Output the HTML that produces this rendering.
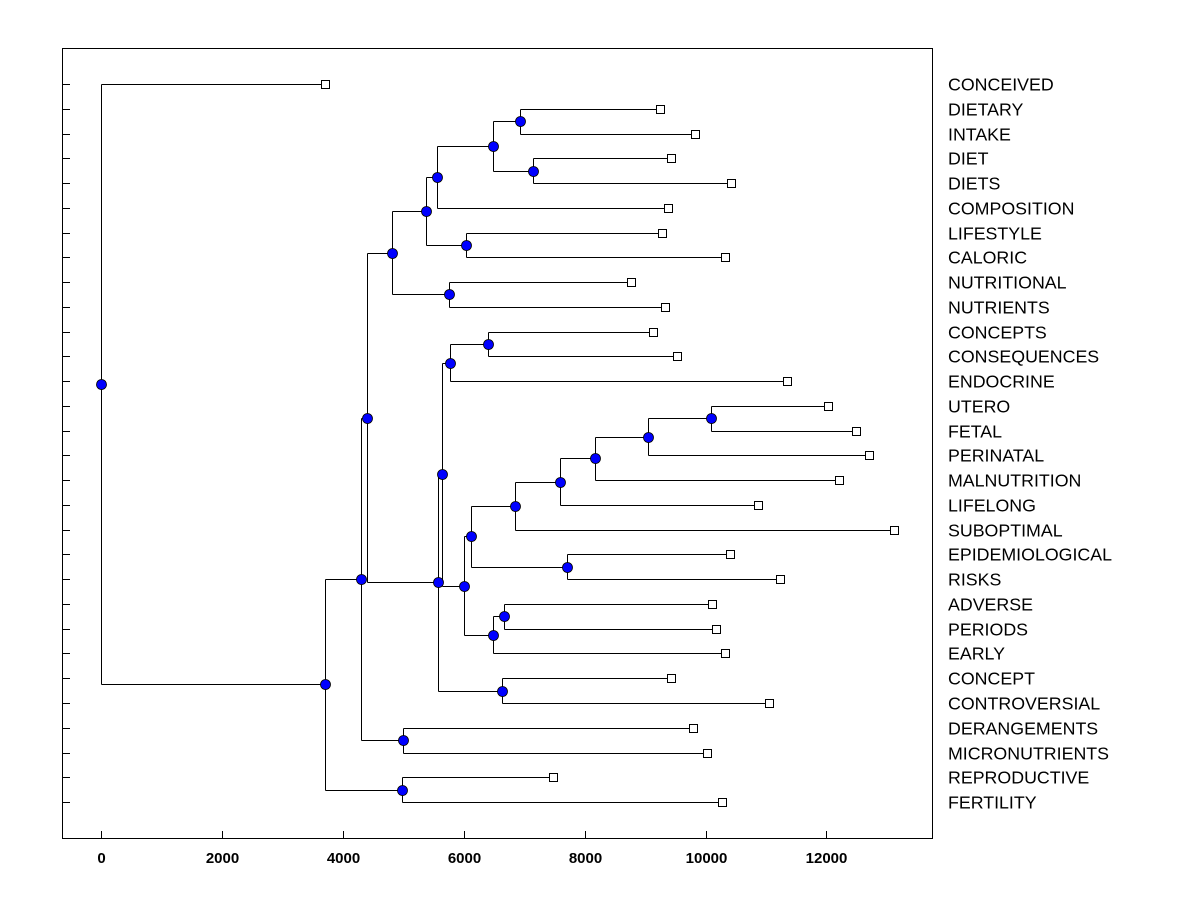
<!DOCTYPE html>
<html><head><meta charset="utf-8"><style>
html,body{margin:0;padding:0;background:#fff;}
svg text{font-family:"Liberation Sans",Arial,sans-serif;}
</style></head><body>
<svg id="chart" width="1200" height="900" xmlns="http://www.w3.org/2000/svg">
<rect x="0" y="0" width="1200" height="900" fill="#fff"/>
<rect x="62.5" y="48.5" width="870" height="790" fill="none" stroke="#000" stroke-width="1"/>
<g id="axis"></g><g id="lines"></g><g id="marks"></g><g id="labels"></g>
</svg>
<script>
const leafNames = ["CONCEIVED","DIETARY","INTAKE","DIET","DIETS","COMPOSITION","LIFESTYLE","CALORIC","NUTRITIONAL","NUTRIENTS","CONCEPTS","CONSEQUENCES","ENDOCRINE","UTERO","FETAL","PERINATAL","MALNUTRITION","LIFELONG","SUBOPTIMAL","EPIDEMIOLOGICAL","RISKS","ADVERSE","PERIODS","EARLY","CONCEPT","CONTROVERSIAL","DERANGEMENTS","MICRONUTRIENTS","REPRODUCTIVE","FERTILITY"];
const leafHeights = [3712,9246,9826,9428,10423,9379,9279,10323,8766,9329,9130,9528,11350,12030,12494,12709,12212,10870,13123,10406,11234,10108,10174,10323,9428,11052,9793,10025,7473,10273];
const nodeIds = ["root","A","R","B","DM","C","D","NN","F","LC","G","H","DD1","DD2","E","CC","I","J","CS","K","N","O","M","ER","P","Q","S","T","U"];
const nodeHeights = [0,3712,4975,4300,5000,4400,4810,5752,5380,6033,5555,6479,6925,7140,5570,6629,5635,5768,6397,6000,6491,6672,6116,7702,6843,7587,8165,9041,10099];
const nodeChildren = [["L0","A"],["B","R"],["L28","L29"],["C","DM"],["L26","L27"],["D","E"],["F","NN"],["L8","L9"],["G","LC"],["L6","L7"],["H","L5"],["DD1","DD2"],["L1","L2"],["L3","L4"],["I","CC"],["L24","L25"],["J","K"],["CS","L12"],["L10","L11"],["M","N"],["O","L23"],["L21","L22"],["P","ER"],["L19","L20"],["Q","L18"],["S","L17"],["T","L16"],["U","L15"],["L13","L14"]];
const xTicks = [0,2000,4000,6000,8000,10000,12000];

const NS="http://www.w3.org/2000/svg";
const xs = v => 101 + v*0.06045;
const ys = i => 84 + i*24.76;
function mk(tag, attrs, parent){const e=document.createElementNS(NS,tag);for(const k in attrs)e.setAttribute(k,attrs[k]);parent.appendChild(e);return e;}
const gAxis=document.getElementById('axis'),gLines=document.getElementById('lines'),gMarks=document.getElementById('marks'),gLab=document.getElementById('labels');

xTicks.forEach(t=>{
  const x=Math.round(xs(t))+0.5;
  const l=mk('line',{x1:x,x2:x,y1:838,y2:831,stroke:'#000'},gAxis);
  
  
  const tx=mk('text',{x:x,y:863,'text-anchor':'middle','font-size':'15','font-weight':'bold'},gAxis);
  tx.textContent=t;
  
  
});
leafNames.forEach((n,i)=>{
  const y=Math.round(ys(i))+0.5;
  const l=mk('line',{x1:62,x2:70,y1:y,y2:y,stroke:'#000'},gAxis);
  
  
  const tx=mk('text',{x:948,y:y+6,'font-size':'17.8'},gLab);
  tx.textContent=n;
  
  
});

const pos={};
function get(id){
  if(pos[id])return pos[id];
  if(/^L\d+$/.test(id)){const i=+id.slice(1);return pos[id]={x:xs(leafHeights[i]),y:ys(i),leaf:true};}
  const k=nodeIds.indexOf(id);
  const a=get(nodeChildren[k][0]),b=get(nodeChildren[k][1]);
  return pos[id]={x:xs(nodeHeights[k]),y:(a.y+b.y)/2,leaf:false};
}
nodeIds.forEach((id,k)=>{
  const p=get(id);const a=get(nodeChildren[k][0]),b=get(nodeChildren[k][1]);
  const px=Math.round(p.x)+0.5;
  const v=mk('line',{x1:px,x2:px,y1:Math.round(a.y)+0.5,y2:Math.round(b.y)+0.5,stroke:'#000'},gLines);
  
  
  [a,b].forEach(c=>{
    const cy=Math.round(c.y)+0.5;
    const h=mk('line',{x1:px,x2:Math.round(c.x)+0.5,y1:cy,y2:cy,stroke:'#000'},gLines);
    
    
  });
});
leafNames.forEach((n,i)=>{
  const p=get('L'+i);
  const r=mk('rect',{x:Math.round(p.x)-3.5,y:Math.round(p.y)-3.5,width:8,height:8,fill:'#fff',stroke:'#000'},gMarks);
  
  
});
nodeIds.forEach(id=>{
  const p=get(id);
  const c=mk('circle',{cx:Math.round(p.x)+0.5,cy:Math.round(p.y)+0.5,r:5,fill:'#0000ff',stroke:'#000','stroke-width':'0.8'},gMarks);
  
  
});
</script>
</body></html>
